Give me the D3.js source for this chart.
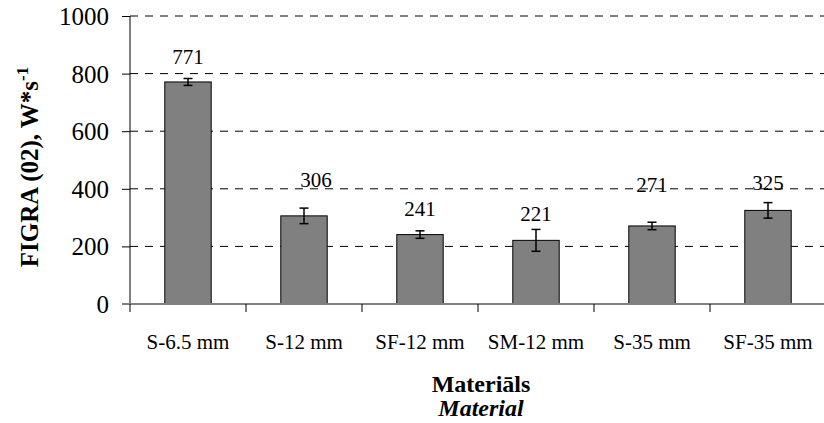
<!DOCTYPE html>
<html>
<head>
<meta charset="utf-8">
<script src="https://cdn.jsdelivr.net/npm/d3@7"></script>
<style>
  body { margin: 0; background: #fff; }
  svg { display: block; }
  text { font-family: "Liberation Serif", "Times New Roman", serif; fill: #000; }
</style>
</head>
<body>
<svg id="chart" width="824" height="423"></svg>
<script>
// data
var materials = ["S-6.5 mm", "S-12 mm", "SF-12 mm", "SM-12 mm", "S-35 mm", "SF-35 mm"];
var figra = [771, 306, 241, 221, 271, 325];
var errors = [12, 27, 13, 38, 13, 27];
// where the value labels sit, in axis units
var labelAt = [833, 407, 306, 289, 390, 396];
var yTicks = [0, 200, 400, 600, 800, 1000];

var svg = d3.select("#chart");

var plotLeft = 130, plotRight = 826, plotTop = 16, plotBottom = 304;

var x = d3.scaleBand()
    .domain(materials)
    .range([plotLeft, plotRight])
    .paddingInner(0.6)
    .paddingOuter(0.3);

var y = d3.scaleLinear()
    .domain([0, 1000])
    .range([plotBottom, plotTop]);

// dashed grid
svg.append("g")
  .selectAll("line")
  .data(yTicks.filter(function(d){ return d > 0; }))
  .enter().append("line")
    .attr("x1", plotLeft)
    .attr("x2", 824)
    .attr("y1", function(d){ return y(d); })
    .attr("y2", function(d){ return y(d); })
    .attr("stroke", "#000")
    .attr("stroke-width", 1)
    .attr("stroke-dasharray", "8,7");

// y axis
var yAxis = svg.append("g")
    .attr("transform", "translate(" + plotLeft + ",0)")
    .call(d3.axisLeft(y).tickValues(yTicks).tickFormat(d3.format("d")).tickSize(8).tickPadding(13));
yAxis.select(".domain").attr("stroke", "#000").attr("d", "M0," + plotTop + "V" + plotBottom);
yAxis.selectAll("line").attr("stroke", "#000");
yAxis.selectAll("text")
    .style("font-family", "Liberation Serif, serif")
    .style("font-size", "25px")
    .attr("fill", "#000")
    .attr("dy", "0.34em");

// bars
svg.append("g")
  .selectAll("rect")
  .data(figra)
  .enter().append("rect")
    .attr("x", function(d, i){ return x(materials[i]); })
    .attr("width", x.bandwidth())
    .attr("y", function(d){ return y(d); })
    .attr("height", function(d){ return y(0) - y(d); })
    .attr("fill", "#808080")
    .attr("stroke", "#000")
    .attr("stroke-width", 1);

// x axis baseline and ticks between categories
var xAxis = svg.append("g").attr("transform", "translate(0," + plotBottom + ")");
xAxis.append("line")
    .attr("x1", plotLeft - 8).attr("x2", 824)
    .attr("y1", 0).attr("y2", 0)
    .attr("stroke", "#808080")
    .attr("stroke-width", 2);
xAxis.selectAll(".tk")
  .data(d3.range(materials.length + 1))
  .enter().append("line")
    .attr("class", "tk")
    .attr("x1", function(i){ return plotLeft + i * x.step(); })
    .attr("x2", function(i){ return plotLeft + i * x.step(); })
    .attr("y1", 0).attr("y2", 8)
    .attr("stroke", "#000");
xAxis.selectAll(".lbl")
  .data(materials)
  .enter().append("text")
    .attr("class", "lbl")
    .attr("x", function(d){ return x(d) + x.bandwidth() / 2; })
    .attr("y", 45)
    .attr("text-anchor", "middle")
    .style("font-size", "21px")
    .text(function(d){ return d; });

// error bars
var eb = svg.append("g").attr("stroke", "#000").attr("stroke-width", 1.5);
figra.forEach(function(v, i){
  var cx = x(materials[i]) + x.bandwidth() / 2;
  var hi = y(v + errors[i]), lo = y(v - errors[i]);
  eb.append("line").attr("x1", cx).attr("x2", cx).attr("y1", hi).attr("y2", lo);
  eb.append("line").attr("x1", cx - 4.5).attr("x2", cx + 4.5).attr("y1", hi).attr("y2", hi);
  eb.append("line").attr("x1", cx - 4.5).attr("x2", cx + 4.5).attr("y1", lo).attr("y2", lo);
});

// value labels (the 306 one sits a little right of its bar)
svg.append("g")
  .selectAll("text")
  .data(figra)
  .enter().append("text")
    .attr("x", function(d, i){ return x(materials[i]) + x.bandwidth() / 2 + (i === 1 ? 12 : 0); })
    .attr("y", function(d, i){ return y(labelAt[i]); })
    .attr("text-anchor", "middle")
    .style("font-size", "21px")
    .text(function(d){ return d; });

// y title
var yt = svg.append("text")
    .attr("transform", "translate(38,167) rotate(-90)")
    .attr("text-anchor", "middle")
    .style("font-size", "25px")
    .style("font-weight", "bold");
yt.append("tspan").text("FIGRA (02), W*s");
yt.append("tspan").attr("dy", "-0.6em").style("font-size", "17px").text("-1");

// x title
svg.append("text")
    .attr("x", 481).attr("y", 392)
    .attr("text-anchor", "middle")
    .style("font-size", "24px")
    .style("font-weight", "bold")
    .text("Materiāls");
svg.append("text")
    .attr("x", 481).attr("y", 416)
    .attr("text-anchor", "middle")
    .style("font-size", "24px")
    .style("font-weight", "bold")
    .style("font-style", "italic")
    .text("Material");
</script>
</body>
</html>
